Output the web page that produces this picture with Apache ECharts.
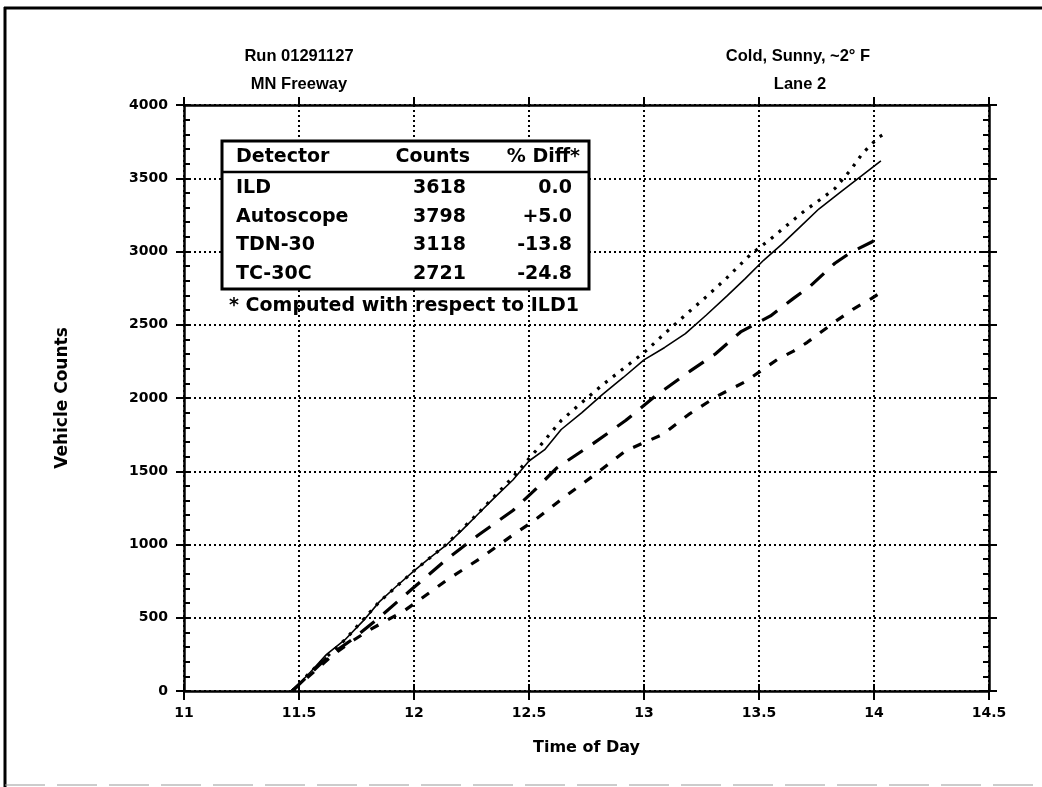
<!DOCTYPE html>
<html>
<head>
<meta charset="utf-8">
<script src="https://cdn.jsdelivr.net/npm/echarts@6/dist/echarts.min.js"></script>
<style>
html,body{margin:0;padding:0;background:#fff;}
#chart{width:1042px;height:787px;}
</style>
</head>
<body>
<div id="chart"></div>
<script>
// ---- data (time of day in hours, cumulative vehicle counts) ----
const ildData = [[11.47,0],[11.55,130],[11.62,250],[11.70,350],[11.78,480],[11.85,610],[11.92,710],[12.0,820],[12.07,910],[12.14,995],[12.21,1100],[12.28,1210],[12.35,1320],[12.43,1440],[12.5,1570],[12.57,1650],[12.64,1785],[12.73,1900],[12.82,2025],[12.91,2140],[13.0,2260],[13.09,2345],[13.18,2440],[13.27,2565],[13.36,2695],[13.44,2815],[13.52,2940],[13.6,3050],[13.68,3170],[13.76,3290],[13.85,3400],[13.94,3510],[14.03,3618]];
const autoscopeData = [[11.47,0],[11.55,130],[11.70,350],[11.85,610],[12.0,820],[12.14,1000],[12.28,1215],[12.43,1460],[12.53,1640],[12.64,1846],[12.73,1970],[12.82,2090],[12.91,2200],[13.0,2310],[13.09,2440],[13.18,2567],[13.27,2690],[13.36,2820],[13.46,2975],[13.55,3085],[13.63,3190],[13.70,3280],[13.78,3370],[13.83,3430],[13.90,3560],[13.95,3670],[14.02,3780],[14.04,3798]];
const tdnData = [[11.47,0],[11.55,120],[11.63,240],[11.73,350],[11.84,490],[11.99,694],[12.14,897],[12.28,1065],[12.43,1232],[12.52,1364],[12.62,1522],[12.78,1690],[12.92,1846],[13.05,2014],[13.2,2183],[13.31,2300],[13.42,2451],[13.55,2560],[13.65,2680],[13.72,2760],[13.83,2920],[13.9,2995],[13.99,3065],[14.04,3118]];
const tcData = [[11.47,0],[11.55,110],[11.65,250],[11.74,350],[11.81,420],[11.96,550],[12.14,754],[12.28,897],[12.43,1065],[12.52,1160],[12.65,1320],[12.78,1470],[12.92,1640],[13.08,1750],[13.2,1894],[13.32,2014],[13.44,2111],[13.58,2263],[13.65,2320],[13.71,2380],[13.77,2450],[13.83,2520],[13.91,2607],[13.99,2680],[14.03,2721]];

const tableHeader = ['Detector','Counts','% Diff*'];
const detectors = ['ILD','Autoscope','TDN-30','TC-30C'];
const counts = ['3618','3798','3118','2721'];
const diffs = ['0.0','+5.0','-13.8','-24.8'];
const footnote = '* Computed with respect to ILD1';
const titleLeft = ['Run 01291127','MN Freeway'];
const titleRight = ['Cold, Sunny, ~2° F','Lane 2'];

const X_MIN = 11, X_MAX = 14.5, X_INT = 0.5;
const Y_MIN = 0, Y_MAX = 4000, Y_INT = 500;

const FONT = 'DejaVu Sans';
const black = '#000';

function xAx(extra){
  return Object.assign({
    type:'value', min:X_MIN, max:X_MAX, interval:X_INT,
    axisLine:{show:false}, axisTick:{show:false}, axisLabel:{show:false}, splitLine:{show:false}
  }, extra);
}
function yAx(extra){
  return Object.assign({
    type:'value', min:Y_MIN, max:Y_MAX, interval:Y_INT,
    axisLine:{show:false}, axisTick:{show:false}, axisLabel:{show:false}, splitLine:{show:false}
  }, extra);
}

const chart = echarts.init(document.getElementById('chart'));
const tableG = [];
const boxL = 222, boxR = 589, boxT = 141, boxB = 289, sepY = 172;
tableG.push({type:'rect', shape:{x:boxL,y:boxT,width:boxR-boxL,height:boxB-boxT}, style:{fill:'#fff',stroke:black,lineWidth:3}, z:100});
tableG.push({type:'line', shape:{x1:boxL,y1:sepY,x2:boxR,y2:sepY}, style:{stroke:black,lineWidth:2.5}, z:101});
const tFont = 'bold 19px "' + FONT + '"';
tableG.push({type:'text', x:236, y:157, style:{text:tableHeader[0], font:tFont, fill:black, align:'left', verticalAlign:'middle'}, z:102});
tableG.push({type:'text', x:470, y:157, style:{text:tableHeader[1], font:tFont, fill:black, align:'right', verticalAlign:'middle'}, z:102});
tableG.push({type:'text', x:580, y:157, style:{text:tableHeader[2], font:tFont, fill:black, align:'right', verticalAlign:'middle'}, z:102});
const rowY = [188, 217, 245, 274];
detectors.forEach((d,i)=>{
  tableG.push({type:'text', x:236, y:rowY[i], style:{text:d, font:tFont, fill:black, align:'left', verticalAlign:'middle'}, z:102});
  tableG.push({type:'text', x:466, y:rowY[i], style:{text:counts[i], font:tFont, fill:black, align:'right', verticalAlign:'middle'}, z:102});
  tableG.push({type:'text', x:572, y:rowY[i], style:{text:diffs[i], font:tFont, fill:black, align:'right', verticalAlign:'middle'}, z:102});
});
tableG.push({type:'text', x:404, y:306, style:{text:footnote, font:'bold 19px "' + FONT + '"', fill:black, align:'center', verticalAlign:'middle'}, z:102});

const titleFont = 'bold 16.5px "Liberation Sans"';
const titles = [
  {type:'text', x:299, y:56, style:{text:titleLeft[0], font:titleFont, fill:black, align:'center', verticalAlign:'middle'}},
  {type:'text', x:299, y:84, style:{text:titleLeft[1], font:titleFont, fill:black, align:'center', verticalAlign:'middle'}},
  {type:'text', x:798, y:56, style:{text:titleRight[0], font:titleFont, fill:black, align:'center', verticalAlign:'middle'}},
  {type:'text', x:800, y:84, style:{text:titleRight[1], font:titleFont, fill:black, align:'center', verticalAlign:'middle'}}
];
const frame = [
  {type:'line', shape:{x1:4,y1:8,x2:1042,y2:8}, style:{stroke:black,lineWidth:3}},
  {type:'line', shape:{x1:5,y1:7,x2:5,y2:787}, style:{stroke:black,lineWidth:3}},
  {type:'line', shape:{x1:5,y1:785,x2:1042,y2:785}, style:{stroke:'#999',lineWidth:1.2,lineDash:[40,12]}}
];

const labelStyle = {show:true, color:black, fontFamily:FONT, fontWeight:'bold', fontSize:14, formatter:(v)=>String(v)};

const option = {
  backgroundColor:'#fff',
  animation:false,
  grid:{left:184, right:53, top:105, bottom:96, containLabel:false},
  xAxis:[
    xAx({position:'bottom', name:'Time of Day', nameLocation:'middle', nameGap:49,
      nameTextStyle:{color:black, fontFamily:FONT, fontWeight:'bold', fontSize:16},
      axisLine:{show:true, onZero:false, lineStyle:{color:black,width:2.5}},
      axisTick:{show:true, inside:false, length:9, lineStyle:{color:black,width:2}},
      axisLabel:Object.assign({margin:15}, labelStyle),
      splitLine:{show:true, lineStyle:{color:black, width:2, type:[2,3]}}}),
    xAx({position:'bottom', axisTick:{show:true, inside:true, length:7, lineStyle:{color:black,width:2}}}),
    xAx({position:'top', axisLine:{show:true, onZero:false, lineStyle:{color:black,width:2.5}},
      axisTick:{show:true, inside:false, length:8, lineStyle:{color:black,width:2}}}),
    xAx({position:'top', axisTick:{show:true, inside:true, length:7, lineStyle:{color:black,width:2}}})
  ],
  yAxis:[
    yAx({position:'left', name:'Vehicle Counts', nameLocation:'middle', nameGap:113, nameRotate:90,
      nameTextStyle:{color:black, fontFamily:FONT, fontWeight:'bold', fontSize:17},
      axisLine:{show:true, onZero:false, lineStyle:{color:black,width:2.5}},
      axisTick:{show:true, inside:false, length:8, lineStyle:{color:black,width:2}},
      axisLabel:Object.assign({margin:16}, labelStyle),
      splitLine:{show:true, lineStyle:{color:black, width:2, type:[2,3]}}}),
    yAx({position:'left', axisTick:{show:true, inside:true, length:7, lineStyle:{color:black,width:2}},
      minorTick:{show:true, splitNumber:5, length:6, lineStyle:{color:black,width:2}}}),
    yAx({position:'right', axisLine:{show:true, onZero:false, lineStyle:{color:black,width:2.5}},
      axisTick:{show:true, inside:false, length:8, lineStyle:{color:black,width:2}}}),
    yAx({position:'right', axisTick:{show:true, inside:true, length:8, lineStyle:{color:black,width:2}},
      minorTick:{show:true, splitNumber:5, length:6, lineStyle:{color:black,width:2}}})
  ],
  series:[
    {name:'ILD', type:'line', data:ildData, showSymbol:false, xAxisIndex:0, yAxisIndex:0,
      lineStyle:{color:black, width:1.6, type:'solid'}, z:5},
    {name:'Autoscope', type:'line', data:autoscopeData, showSymbol:false, xAxisIndex:0, yAxisIndex:0,
      lineStyle:{color:black, width:3.2, type:[3,7]}, z:5},
    {name:'TDN-30', type:'line', data:tdnData, showSymbol:false, xAxisIndex:0, yAxisIndex:0,
      lineStyle:{color:black, width:3.2, type:[18,12]}, z:5},
    {name:'TC-30C', type:'line', data:tcData, showSymbol:false, xAxisIndex:0, yAxisIndex:0,
      lineStyle:{color:black, width:3.2, type:[9,11]}, z:5}
  ],
  graphic:[].concat(frame, titles, tableG)
};
chart.setOption(option);
</script>
</body>
</html>
